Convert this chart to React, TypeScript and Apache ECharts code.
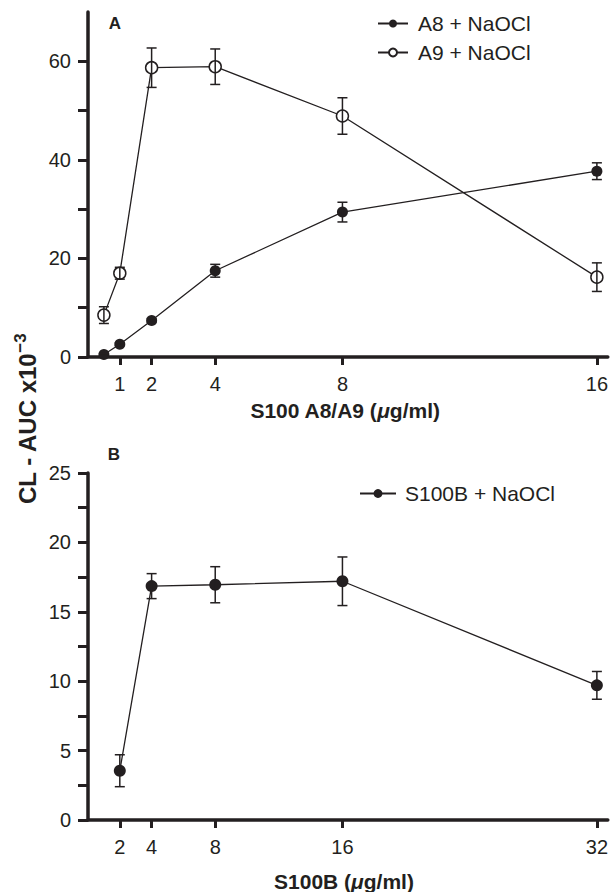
import React, { useEffect, useRef } from "react";
import * as echarts from "echarts";

// ---- Data ----
const topX = [0.5, 1, 2, 4, 8, 16];
const a8Mean = [0.5, 2.6, 7.4, 17.5, 29.4, 37.7];
const a8Err = [0.2, 0.3, 0.4, 1.3, 2.0, 1.7];
const a9Mean = [8.5, 17.0, 58.7, 58.9, 48.9, 16.2];
const a9Err = [1.7, 1.2, 4.0, 3.6, 3.7, 2.9];

const bottomX = [2, 4, 8, 16, 32];
const s100bMean = [3.55, 16.85, 16.95, 17.2, 9.7];
const s100bErr = [1.15, 0.9, 1.3, 1.75, 1.0];

const topXTicks = [1, 2, 4, 8, 16];
const topYTicks = [0, 10, 20, 30, 40, 50, 60];
const topYLabels = [0, 20, 40, 60];
const bottomXTicks = [2, 4, 8, 16, 32];
const bottomYTicks = [0, 2.5, 5, 7.5, 10, 12.5, 15, 17.5, 20, 22.5, 25];
const bottomYLabels = [0, 5, 10, 15, 20, 25];

const seriesNames = ["A8 + NaOCl", "A9 + NaOCl", "S100B + NaOCl"];

const INK = "#231f20";
const SANS = "'Liberation Sans', Arial, Helvetica, sans-serif";

function pairs(xs: number[], ys: number[]) {
  return xs.map((x, i) => [x, ys[i]]);
}
function errData(xs: number[], ys: number[], es: number[]) {
  return xs.map((x, i) => [x, ys[i] - es[i], ys[i] + es[i]]);
}

const errorRender = (params: any, api: any) => {
  const x = api.value(0);
  const lo = api.coord([x, api.value(1)]);
  const hi = api.coord([x, api.value(2)]);
  const w = 5;
  const style = { stroke: INK, lineWidth: 1.5 };
  return {
    type: "group",
    children: [
      { type: "line", shape: { x1: hi[0], y1: hi[1], x2: lo[0], y2: lo[1] }, style },
      { type: "line", shape: { x1: hi[0] - w, y1: hi[1], x2: hi[0] + w, y2: hi[1] }, style },
      { type: "line", shape: { x1: lo[0] - w, y1: lo[1], x2: lo[0] + w, y2: lo[1] }, style },
    ],
  };
};

function makeXAxis(gridIndex: number, max: number, ticks: number[]) {
  return {
    type: "value",
    gridIndex,
    min: 0,
    max,
    z: 5,
    axisLine: { show: true, lineStyle: { color: INK, width: 3.5 } },
    axisTick: { show: true, customValues: ticks, length: 8, lineStyle: { color: INK, width: 3 } },
    axisLabel: {
      show: true,
      customValues: ticks,
      margin: 17,
      fontSize: 20,
      fontFamily: SANS,
      color: INK,
    },
    splitLine: { show: false },
  };
}

function makeYAxis(gridIndex: number, max: number, ticks: number[], labels: number[]) {
  return {
    type: "value",
    gridIndex,
    min: 0,
    max,
    z: 5,
    axisLine: { show: true, lineStyle: { color: INK, width: 3.5 } },
    axisTick: { show: true, customValues: ticks, length: 10, lineStyle: { color: INK, width: 3 } },
    axisLabel: {
      show: true,
      customValues: labels,
      margin: 17,
      fontSize: 20,
      fontFamily: SANS,
      color: INK,
    },
    splitLine: { show: false },
  };
}

const boldText = { fontSize: 21, fontWeight: "bold", fontFamily: SANS, fill: INK };

export default function App() {
  const ref = useRef<HTMLDivElement>(null);

  useEffect(() => {
    if (!ref.current) return;
    const chart = echarts.init(ref.current, undefined, { renderer: "svg" });

    const lineBase = {
      type: "line",
      symbol: "circle",
      lineStyle: { color: INK, width: 1.3 },
      z: 2,
    };

    const option: any = {
      animation: false,
      grid: [
        { left: 88, top: 12, width: 523, height: 345 },
        { left: 88, top: 473, width: 523, height: 347 },
      ],
      xAxis: [makeXAxis(0, 523 / 32, topXTicks), makeXAxis(1, 523 / 16, bottomXTicks)],
      yAxis: [makeYAxis(0, 70, topYTicks, topYLabels), makeYAxis(1, 25, bottomYTicks, bottomYLabels)],
      legend: [
        {
          data: [seriesNames[0], seriesNames[1]],
          orient: "vertical",
          left: 372,
          top: 8,
          itemWidth: 30,
          itemHeight: 10,
          itemGap: 8,
          selectedMode: false,
          textStyle: { fontSize: 21, fontFamily: SANS, color: INK, padding: [0, 0, 0, 5] },
        },
        {
          data: [seriesNames[2]],
          orient: "vertical",
          left: 354,
          top: 478,
          itemWidth: 36,
          itemHeight: 11,
          selectedMode: false,
          textStyle: { fontSize: 21, fontFamily: SANS, color: INK, padding: [0, 0, 0, 4] },
        },
      ],
      series: [
        {
          ...lineBase,
          name: seriesNames[0],
          xAxisIndex: 0,
          yAxisIndex: 0,
          symbolSize: 11,
          itemStyle: { color: INK, borderColor: INK, borderWidth: 0 },
          data: pairs(topX, a8Mean),
        },
        {
          ...lineBase,
          name: seriesNames[1],
          xAxisIndex: 0,
          yAxisIndex: 0,
          symbolSize: 12,
          itemStyle: { color: "#ffffff", borderColor: INK, borderWidth: 1.5 },
          data: pairs(topX, a9Mean),
        },
        {
          ...lineBase,
          name: seriesNames[2],
          xAxisIndex: 1,
          yAxisIndex: 1,
          symbolSize: 12,
          itemStyle: { color: INK, borderColor: INK, borderWidth: 0 },
          data: pairs(bottomX, s100bMean),
        },
        {
          type: "custom",
          name: "A8 err",
          xAxisIndex: 0,
          yAxisIndex: 0,
          z: 3,
          renderItem: errorRender,
          data: errData(topX, a8Mean, a8Err),
        },
        {
          type: "custom",
          name: "A9 err",
          xAxisIndex: 0,
          yAxisIndex: 0,
          z: 3,
          renderItem: errorRender,
          data: errData(topX, a9Mean, a9Err),
        },
        {
          type: "custom",
          name: "S100B err",
          xAxisIndex: 1,
          yAxisIndex: 1,
          z: 3,
          renderItem: errorRender,
          data: errData(bottomX, s100bMean, s100bErr),
        },
      ],
      graphic: [
        {
          type: "text",
          x: 115,
          y: 23,
          style: { text: "A", fontSize: 17, fontWeight: "bold", fontFamily: SANS, fill: INK, align: "center", verticalAlign: "middle" },
        },
        {
          type: "text",
          x: 114,
          y: 454,
          style: { text: "B", fontSize: 17, fontWeight: "bold", fontFamily: SANS, fill: INK, align: "center", verticalAlign: "middle" },
        },
        {
          type: "text",
          x: 345,
          y: 410,
          style: {
            text: "{b|S100 A8/A9 (}{i|μ}{b|g/ml)}",
            align: "center",
            verticalAlign: "middle",
            rich: { b: boldText, i: { ...boldText, fontStyle: "italic" } },
          },
        },
        {
          type: "text",
          x: 344,
          y: 881,
          style: {
            text: "{b|S100B (}{i|μ}{b|g/ml)}",
            align: "center",
            verticalAlign: "middle",
            rich: { b: boldText, i: { ...boldText, fontStyle: "italic" } },
          },
        },
        {
          type: "text",
          x: 27,
          y: 419,
          rotation: Math.PI / 2,
          style: {
            text: "{a|CL - AUC x10}{s|−3}",
            align: "center",
            verticalAlign: "middle",
            rich: {
              a: { ...boldText, fontSize: 24, lineHeight: 30 },
              s: { ...boldText, fontSize: 17, lineHeight: 14, verticalAlign: "top" },
            },
          },
        },
      ],
    };

    chart.setOption(option);
    return () => chart.dispose();
  }, []);

  return (
    <div
      ref={ref}
      style={{ position: "fixed", left: 0, top: 0, width: 611, height: 892, background: "#fff" }}
    />
  );
}
